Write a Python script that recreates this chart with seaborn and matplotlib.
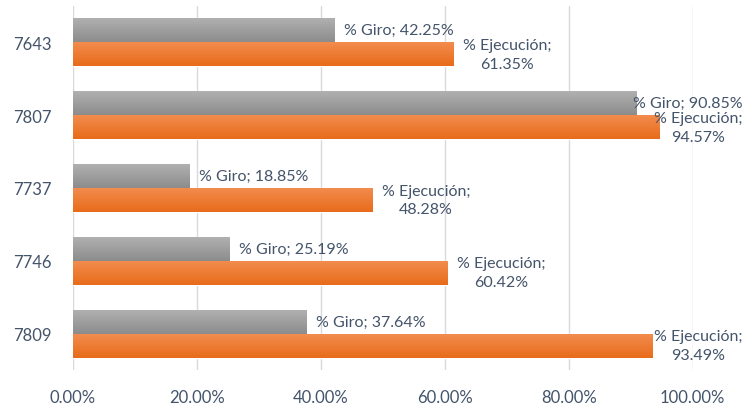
import matplotlib
matplotlib.use("Agg")
import matplotlib.pyplot as plt
import matplotlib.transforms as mtransforms
from matplotlib.colors import LinearSegmentedColormap
import numpy as np
import pandas as pd
import seaborn as sns

# chart data
categories = ["7643", "7807", "7737", "7746", "7809"]
giro = [42.25, 90.85, 18.85, 25.19, 37.64]
ejecucion = [61.35, 94.57, 48.28, 60.42, 93.49]
series = ["% Giro", "% Ejecución"]
x_ticks = [0, 20, 40, 60, 80, 100]

sns.set_theme(style="white")
plt.rcParams["font.family"] = ["Lato", "DejaVu Sans"]

TEXT = "#44546A"
GRID = "#D9D9D9"
gradients = {
    "% Giro": ("#B2B2B2", "#8C8C8C"),
    "% Ejecución": ("#F28E50", "#E86B1A"),
}

df = pd.DataFrame({
    "cat": categories * 2,
    "serie": [series[0]] * len(categories) + [series[1]] * len(categories),
    "valor": giro + ejecucion,
})

fig = plt.figure(figsize=(7.48, 4.06), dpi=100)
ax = fig.add_axes([72.7 / 748, 1 - 371 / 406, 620 / 748, 364 / 406])

palette = {s: gradients[s][1] for s in series}
sns.barplot(data=df, x="valor", y="cat", hue="serie", order=categories,
            hue_order=series, palette=palette, width=0.66, legend=False,
            saturation=1, ax=ax, zorder=2)

xlim = (0, 100)
ylim = ax.get_ylim()

# gradient fill on each bar (Excel look)
grad = np.linspace(0, 1, 256).reshape(-1, 1)
for i, patch in enumerate(ax.patches):
    s = series[i // len(categories)]
    cmap = LinearSegmentedColormap.from_list("g", gradients[s])
    x0, y0 = patch.get_x(), patch.get_y()
    w, h = patch.get_width(), patch.get_height()
    im = ax.imshow(grad, cmap=cmap, aspect="auto", origin="upper",
                   extent=(x0, x0 + w, y0 + h, y0), zorder=3)
    im.set_clip_path(patch)

ax.set_xlim(*xlim)
ax.set_ylim(*ylim)

ax.set_xticks(x_ticks)
ax.set_xticklabels([f"{t:.2f}%" for t in x_ticks])
ax.xaxis.grid(True, color=GRID, linewidth=1.0, zorder=0)
ax.set_axisbelow(True)
for sp in ax.spines.values():
    sp.set_visible(False)
ax.tick_params(axis="x", length=0, pad=14, labelsize=12, labelcolor=TEXT)
ax.tick_params(axis="y", length=0, pad=15, labelsize=12, labelcolor=TEXT)
ax.set_xlabel("")
ax.set_ylabel("")

# data labels
labels = []
n = len(categories)
for i, patch in enumerate(ax.patches[: 2 * n]):
    s = series[i // n]
    v = patch.get_width()
    yc = patch.get_y() + patch.get_height() / 2
    if s == "% Giro":
        txt = f"% Giro; {v:.2f}%"
    else:
        txt = f"% Ejecución;\n{v:.2f}%"
    off = mtransforms.ScaledTranslation(7 / 72, 0, fig.dpi_scale_trans)
    t = ax.text(v, yc, txt, ha="left", va="center", multialignment="center",
                linespacing=1.45, fontsize=11.5, color=TEXT,
                transform=ax.transData + off, clip_on=False, zorder=5)
    labels.append((t, v, yc))

# keep labels inside the chart area like Excel does
fig.canvas.draw()
r = fig.canvas.get_renderer()
right_px = 745
for t, v, yc in labels:
    bb = t.get_window_extent(r)
    if bb.x1 > right_px:
        shift = (right_px - bb.x1) + 7
        off = mtransforms.ScaledTranslation(shift / fig.dpi, 0, fig.dpi_scale_trans)
        t.set_transform(ax.transData + off)

fig.savefig("out.png", dpi=100)
